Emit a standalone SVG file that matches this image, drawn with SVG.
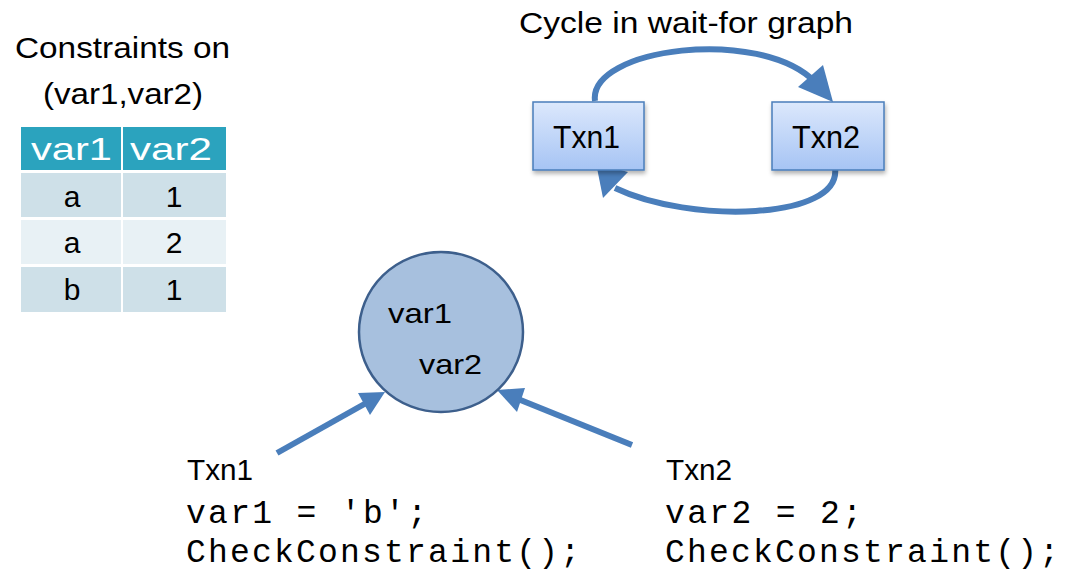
<svg xmlns="http://www.w3.org/2000/svg" width="1076" height="583" viewBox="0 0 1076 583">
<defs>
<linearGradient id="boxg" x1="0" y1="0" x2="0" y2="1">
<stop offset="0" stop-color="#dce8fc"/>
<stop offset="1" stop-color="#a6c4f4"/>
</linearGradient>
<filter id="sh" x="-20%" y="-20%" width="140%" height="150%">
<feDropShadow dx="1" dy="3" stdDeviation="2" flood-color="#000" flood-opacity="0.3"/>
</filter>
<style>
.t{font-family:"Liberation Sans",Arial,sans-serif;fill:#000}
.m{font-family:"Liberation Mono","Courier New",monospace;font-size:33px;fill:#000}
.hd{font-family:"Liberation Sans",Arial,sans-serif;font-size:32px;fill:#fff}
.cell{font-family:"Liberation Sans",Arial,sans-serif;font-size:30px;fill:#000;text-anchor:middle}
.box{fill:url(#boxg);stroke:#4a7ebb;stroke-width:1.5}
.shaft{fill:none;stroke:#4a7ebb;stroke-width:6}
.head{fill:#4a7ebb}
</style>
</defs>
<rect width="1076" height="583" fill="#fff"/>

<g id="table">
<text class="t" x="15" y="58" font-size="29" textLength="215" lengthAdjust="spacingAndGlyphs">Constraints on</text>
<text class="t" x="43" y="104" font-size="29" textLength="160" lengthAdjust="spacingAndGlyphs">(var1,var2)</text>
<rect x="21" y="127" width="205" height="43" fill="#2ba3be"/>
<rect x="21" y="173" width="205" height="44" fill="#cee0e8"/>
<rect x="21" y="220" width="205" height="44" fill="#e8f1f5"/>
<rect x="21" y="267" width="205" height="45" fill="#cee0e8"/>
<line x1="122" y1="127" x2="122" y2="312" stroke="#fff" stroke-width="2"/>
<line x1="21" y1="171.5" x2="226" y2="171.5" stroke="#fff" stroke-width="3"/>
<line x1="21" y1="218.5" x2="226" y2="218.5" stroke="#fff" stroke-width="3"/>
<line x1="21" y1="265.5" x2="226" y2="265.5" stroke="#fff" stroke-width="3"/>
<text class="hd" x="31" y="160" textLength="81" lengthAdjust="spacingAndGlyphs">var1</text>
<text class="hd" x="130" y="160" textLength="82" lengthAdjust="spacingAndGlyphs">var2</text>
<text class="cell" x="72" y="207">a</text>
<text class="cell" x="174" y="207">1</text>
<text class="cell" x="72" y="253">a</text>
<text class="cell" x="174" y="253">2</text>
<text class="cell" x="72" y="300">b</text>
<text class="cell" x="174" y="300">1</text>
</g>

<g id="cycle-title">
<text class="t" x="519" y="33" font-size="30" textLength="334" lengthAdjust="spacingAndGlyphs">Cycle in wait-for graph</text>
</g>

<g id="connectors">
<path class="shaft" d="M 595 101 C 588 48, 760 26, 815 82"/>
<polygon class="head" points="833,102 798,87 823,65"/>
<path class="shaft" d="M 835 168 C 842 220, 690 224, 615 188"/>
<polygon class="head" points="596,163 603,198 628,172"/>
<line class="shaft" stroke-width="5" x1="277" y1="453" x2="368" y2="402"/>
<polygon class="head" points="385,392 358,393 370,415"/>
<line class="shaft" stroke-width="5" x1="632" y1="445" x2="513" y2="397"/>
<polygon class="head" points="497,390 525,388 517,412"/>
</g>

<g id="node-txn1-box">
<rect class="box" x="533" y="102" width="111" height="68" filter="url(#sh)"/>
<text class="t" x="553" y="148" font-size="31" textLength="67" lengthAdjust="spacingAndGlyphs">Txn1</text>
</g>

<g id="node-txn2-box">
<rect class="box" x="772" y="102" width="112" height="68" filter="url(#sh)"/>
<text class="t" x="792" y="148" font-size="31" textLength="68" lengthAdjust="spacingAndGlyphs">Txn2</text>
</g>

<g id="node-vars">
<ellipse cx="441" cy="332" rx="82" ry="80" fill="#a7c0de" stroke="#3d5f8c" stroke-width="2.5"/>
<text class="t" x="388" y="323" font-size="28" textLength="64" lengthAdjust="spacingAndGlyphs">var1</text>
<text class="t" x="419" y="374" font-size="28" textLength="63" lengthAdjust="spacingAndGlyphs">var2</text>
</g>

<g id="node-txn1-code">
<text class="t" x="187" y="480" font-size="30" textLength="66" lengthAdjust="spacingAndGlyphs">Txn1</text>
<text class="m" x="186" y="523" textLength="241" lengthAdjust="spacing">var1 = 'b';</text>
<text class="m" x="186" y="562" textLength="394" lengthAdjust="spacing">CheckConstraint();</text>
</g>

<g id="node-txn2-code">
<text class="t" x="666" y="480" font-size="30" textLength="66" lengthAdjust="spacingAndGlyphs">Txn2</text>
<text class="m" x="665" y="523" textLength="197" lengthAdjust="spacing">var2 = 2;</text>
<text class="m" x="665" y="562" textLength="394" lengthAdjust="spacing">CheckConstraint();</text>
</g>
</svg>
